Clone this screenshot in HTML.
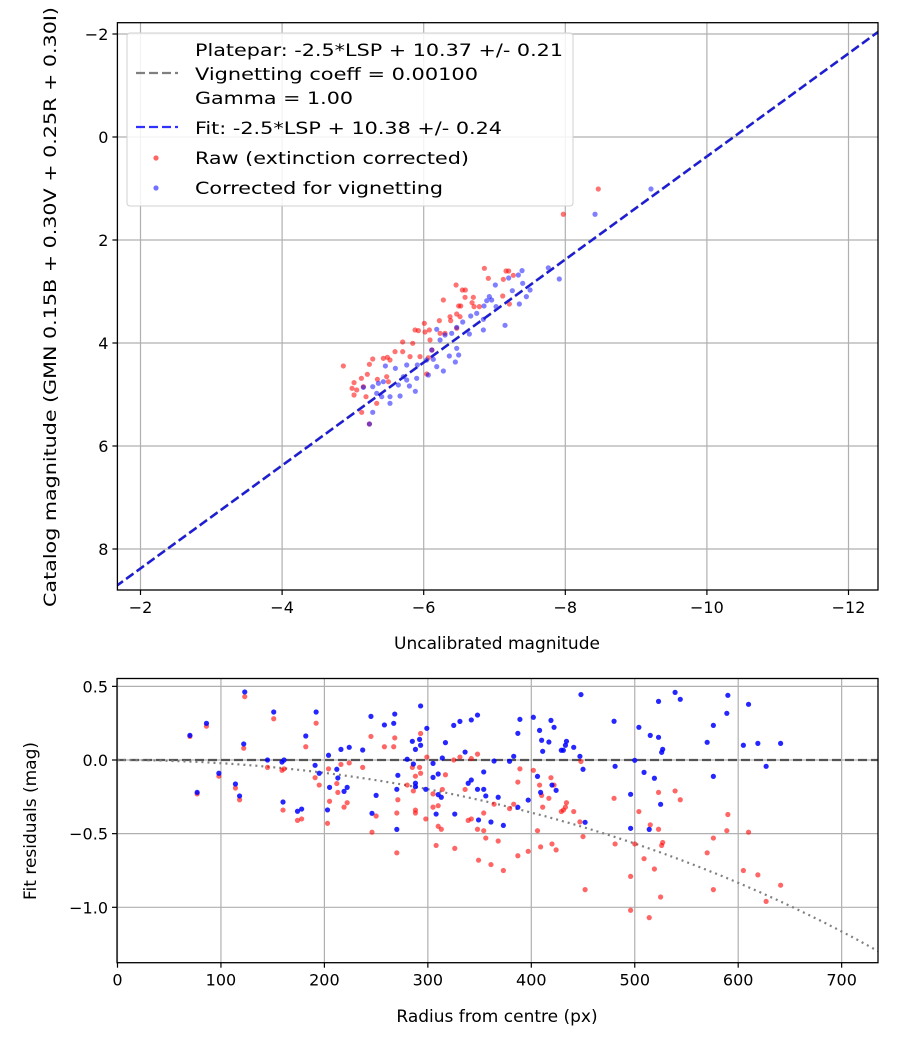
<!DOCTYPE html>
<html><head><meta charset="utf-8"><style>
html,body{margin:0;padding:0;background:#fff;}
svg text{font-family:"DejaVu Sans","Liberation Sans",sans-serif;fill:#000;}
</style></head><body>
<svg id="chart" xmlns="http://www.w3.org/2000/svg" width="900" height="1050" viewBox="0 0 900 1050">
<defs>
<clipPath id="ctop"><rect x="117.4" y="22.7" width="760.6" height="567.3"/></clipPath>
<clipPath id="cbot"><rect x="117" y="678.5" width="761" height="284.2"/></clipPath>
</defs>
<rect width="900" height="1050" fill="#fff"/>
<g id="topplot"></g>
<g id="botplot"></g>
</svg>
<script>
// ---------- Top plot data ----------
const rawX = [-6.857,-7.163,-7.200,-7.266,-6.913,-7.125,-6.457,-6.546,-6.588,-6.584,-6.701,-6.278,-6.683,-6.711,-6.494,-6.523,-6.786,-6.466,-6.513,-6.381,-6.221,-6.009,-6.080,-5.878,-5.925,-6.019,-6.231,-6.301,-5.703,-5.845,-5.703,-5.595,-5.807,-5.948,-6.066,-6.118,-5.430,-5.280,-5.487,-5.524,-4.865,-5.233,-5.204,-5.120,-5.016,-4.988,-5.054,-5.016,-5.148,-5.346,-5.477,-5.501,-5.185,-5.336,-5.124,-5.233,-6.042,-6.466,-7.116,-7.210,-6.089,-6.372,-8.466,-7.972];
const rawY = [2.55,2.602,2.602,2.686,2.744,2.764,2.874,2.971,2.971,3.113,3.113,3.165,3.217,3.294,3.281,3.281,3.294,3.437,3.489,3.566,3.566,3.618,3.747,3.747,3.76,3.786,3.812,3.812,3.98,4.006,4.168,4.168,4.265,4.265,4.285,4.136,4.298,4.311,4.278,4.33,4.446,4.414,4.608,4.686,4.77,4.88,4.912,5.01,4.848,4.705,4.654,4.751,5.042,5.171,5.346,5.573,4.602,3.715,3.087,3.243,3.942,3.489,1.01,1.50];
const corX = [-7.389,-7.337,-7.012,-7.200,-7.398,-7.502,-7.252,-7.450,-7.351,-6.927,-6.890,-6.960,-7.022,-6.852,-6.749,-6.664,-6.843,-6.551,-6.843,-7.149,-6.645,-6.466,-6.395,-6.301,-6.231,-6.184,-6.466,-6.494,-6.447,-6.362,-6.278,-6.184,-6.113,-6.066,-5.901,-5.910,-5.760,-5.713,-5.600,-5.459,-5.642,-5.798,-5.882,-5.666,-5.524,-5.430,-5.360,-5.280,-5.148,-5.336,-5.407,-5.280,-5.233,-5.524,-5.760,-6.042,-6.136,-9.21,-8.42,-7.76,-7.915];
const corY = [2.595,2.68,2.874,2.738,2.841,2.971,2.984,3.1,3.243,3.1,3.178,3.165,3.294,3.281,3.424,3.476,3.54,3.592,3.747,3.657,3.825,3.696,3.812,3.845,3.942,3.734,4.103,4.233,4.369,4.252,4.544,4.459,4.136,4.621,4.686,4.427,4.427,4.654,4.492,4.446,4.815,4.835,4.938,5.029,5.171,4.751,4.783,4.848,4.861,4.977,5.042,5.346,5.573,5.042,4.718,4.33,4.317,1.01,1.50,2.54,2.757];
const fitZero = 10.38;
const plateZero = 10.37;
const topXTicks = [-2,-4,-6,-8,-10,-12];
const topYTicks = [-2,0,2,4,6,8];

// ---------- Bottom plot data ----------
const radius = [70,77,86,98,114,118,122,123,145,151,160,159,161,174,178,182,191,192,195,203,204,205,212,213,216,219,222,224,237,245,246,250,258,267,268,270,270,271,280,285,286,288,288,288,292,293,293,298,299,305,305,308,310,310,313,314,317,325,326,331,336,339,342,342,348,348,349,354,354,356,361,364,368,373,379,383,387,387,389,397,402,406,408,409,410,411,417,419,420,422,424,429,431,433,434,441,447,448,450,452,480,481,496,496,500,504,509,514,515,519,523,523,525,526,527,539,544,570,576,576,589,590,605,610,619,627,641];
const resCorrected = [0.167,-0.22,0.249,-0.09,-0.163,-0.244,0.109,0.462,0,0.326,-0.285,-0.014,0,-0.348,-0.333,0.163,-0.036,0.326,-0.09,-0.339,0.032,-0.186,-0.063,-0.122,0.072,-0.213,-0.186,0.086,0.068,0.296,-0.362,-0.24,0.238,0.249,0.312,-0.471,-0.199,-0.104,0.005,0.127,-0.027,0.072,-0.158,-0.181,0.14,0.1,0.367,-0.199,0.215,-0.118,-0.023,-0.367,-0.235,-0.095,-0.253,0.014,0.118,0.235,-0.367,0.262,0.054,-0.158,-0.136,0.272,0.305,-0.199,-0.407,-0.081,-0.199,-0.244,-0.421,-0.007,-0.253,-0.444,-0.009,0.025,0.181,-0.321,0.276,-0.272,0.29,-0.111,0.201,-0.22,0.134,0.059,0.122,0.269,-0.17,0.222,-0.206,0.066,0.066,0.1,0.127,0.086,0.025,0.444,-0.063,-0.423,0.263,-0.043,-0.233,-0.464,-0.002,0.222,-0.084,-0.471,0.167,-0.124,0.154,0.398,-0.301,0.052,0.072,0.459,0.412,0.12,0.235,-0.111,0.317,0.439,0.1,0.378,0.113,-0.043,0.113];
const resRaw = [0.16,-0.23,0.23,-0.11,-0.19,-0.27,0.08,0.43,-0.05,0.28,-0.34,-0.07,-0.06,-0.41,-0.40,0.09,-0.12,0.25,-0.17,-0.43,-0.06,-0.28,-0.16,-0.22,-0.03,-0.32,-0.29,-0.02,-0.05,0.16,-0.49,-0.38,0.09,0.09,0.15,-0.63,-0.36,-0.27,-0.17,-0.05,-0.21,-0.11,-0.34,-0.36,-0.05,-0.09,0.18,-0.40,0.02,-0.32,-0.23,-0.58,-0.45,-0.31,-0.47,-0.20,-0.10,0.00,-0.60,0.02,-0.20,-0.41,-0.40,0.01,0.04,-0.47,-0.68,-0.36,-0.48,-0.53,-0.71,-0.30,-0.55,-0.75,-0.33,-0.30,-0.15,-0.65,-0.06,-0.62,-0.07,-0.48,-0.17,-0.59,-0.24,-0.32,-0.26,-0.12,-0.57,-0.17,-0.61,-0.35,-0.34,-0.32,-0.29,-0.35,-0.42,-0.01,-0.52,-0.88,-0.26,-0.57,-0.79,-1.02,-0.57,-0.35,-0.67,-1.07,-0.44,-0.74,-0.47,-0.22,-0.93,-0.58,-0.56,-0.21,-0.27,-0.63,-0.53,-0.88,-0.48,-0.37,-0.75,-0.49,-0.78,-0.96,-0.85];
const vignCoeff = 0.001;
const botXTicks = [0,100,200,300,400,500,600,700];
const botYTicks = [0.5,0.0,-0.5,-1.0];
const botYTickLabels = ["0.5","0.0","\u22120.5","\u22121.0"];

const NS = "http://www.w3.org/2000/svg";
function mk(parent, tag, attrs) {
  const e = document.createElementNS(NS, tag);
  for (const k in attrs) e.setAttribute(k, attrs[k]);
  parent.appendChild(e);
  return e;
}
const fmt = v => (v < 0 ? "\u2212" + Math.abs(v) : String(v));

// ---------- top axes ----------
const T = {l:117.4, r:878, t:22.7, b:590};
const tx = x => 140.5 + (-x - 2) * 70.8;
const ty = y => 137 + y * 51.5;
const topG = document.getElementById("topplot");
for (const v of topXTicks) {
  const g = mk(topG, "line", {x1:tx(v), x2:tx(v), y1:T.t, y2:T.b, stroke:"#b0b0b0", "stroke-width":1.2});
  
  
  const tk = mk(topG, "line", {x1:tx(v), x2:tx(v), y1:T.b, y2:T.b+5, stroke:"#000", "stroke-width":1.2});
  
  
  const t = mk(topG, "text", {x:tx(v), y:T.b+23, "text-anchor":"middle", "font-size":16});
  t.textContent = fmt(v);
  
  
}
for (const v of topYTicks) {
  const g = mk(topG, "line", {x1:T.l, x2:T.r, y1:ty(v), y2:ty(v), stroke:"#b0b0b0", "stroke-width":1.2});
  
  
  const tk = mk(topG, "line", {x1:T.l-5, x2:T.l, y1:ty(v), y2:ty(v), stroke:"#000", "stroke-width":1.2});
  
  
  const t = mk(topG, "text", {x:T.l-9, y:ty(v)+6, "text-anchor":"end", "font-size":16});
  t.textContent = fmt(v);
  
  
}
const ctop = mk(topG, "g", {"clip-path":"url(#ctop)"});


for (let i = 0; i < rawX.length; i++) {
  const c = mk(ctop, "circle", {cx:tx(rawX[i]), cy:ty(rawY[i]), r:2.6, fill:"#ff0000", "fill-opacity":0.55});
  
  
}
for (let i = 0; i < corX.length; i++) {
  const c = mk(ctop, "circle", {cx:tx(corX[i]), cy:ty(corY[i]), r:2.6, fill:"#0000ff", "fill-opacity":0.5});
  
  
}
const x0 = -1.5, x1 = -12.6;
const pl = mk(ctop, "line", {x1:tx(x0), y1:ty(x0+plateZero), x2:tx(x1), y2:ty(x1+plateZero), stroke:"#808080", "stroke-width":2.2, "stroke-dasharray":"9,4"});


const fl = mk(ctop, "line", {x1:tx(x0), y1:ty(x0+fitZero), x2:tx(x1), y2:ty(x1+fitZero), stroke:"#1c1cd8", "stroke-width":2.4, "stroke-dasharray":"9,4"});


const tframe = mk(topG, "rect", {x:T.l, y:T.t, width:T.r-T.l, height:T.b-T.t, fill:"none", stroke:"#000", "stroke-width":1.3});


const txl = mk(topG, "text", {x:497, y:649, "text-anchor":"middle", "font-size":17});
txl.textContent = "Uncalibrated magnitude";


const tyl = mk(topG, "text", {x:0, y:0, "text-anchor":"middle", "font-size":17, transform:"translate(56,307) rotate(-90)", textLength:600, lengthAdjust:"spacingAndGlyphs"});
tyl.textContent = "Catalog magnitude (GMN 0.15B + 0.30V + 0.25R + 0.30I)";



// legend
const lg = mk(topG, "g", {});


const lbox = mk(lg, "rect", {x:127, y:33, width:446, height:173, rx:3, fill:"#fff", "fill-opacity":0.85, stroke:"#d0d0d0", "stroke-width":1});


const lgl = mk(lg, "line", {x1:136, x2:178, y1:73, y2:73, stroke:"#808080", "stroke-width":2.2, "stroke-dasharray":"9,4"});


const lbl = mk(lg, "line", {x1:136, x2:178, y1:127, y2:127, stroke:"#3030ff", "stroke-width":2.2, "stroke-dasharray":"9,4"});


const lr = mk(lg, "circle", {cx:156, cy:158, r:2.6, fill:"#ff0000", "fill-opacity":0.6});


const lb = mk(lg, "circle", {cx:156, cy:188, r:2.6, fill:"#0000ff", "fill-opacity":0.55});


const legItems = [
  ["Platepar: -2.5*LSP + 10.37 +/- 0.21", 56, 368],
  ["Vignetting coeff = 0.00100", 80, 283],
  ["Gamma = 1.00", 104, 158],
  ["Fit: -2.5*LSP + 10.38 +/- 0.24", 134, 307],
  ["Raw (extinction corrected)", 164, 274],
  ["Corrected for vignetting", 194, 248]
];
for (const it of legItems) {
  const t = mk(lg, "text", {x:195, y:it[1], "font-size":17, textLength:it[2], lengthAdjust:"spacingAndGlyphs"});
  t.textContent = it[0];
  
  
}

// ---------- bottom axes ----------
const B = {l:117, r:878, t:678.5, b:962.7};
const bx = r => 117.5 + r * 1.0345;
const by = v => 760 - v * 147.3;
const botG = document.getElementById("botplot");
botXTicks.forEach(v => {
  const g = mk(botG, "line", {x1:bx(v), x2:bx(v), y1:B.t, y2:B.b, stroke:"#b0b0b0", "stroke-width":1.2});
  
  
  const tk = mk(botG, "line", {x1:bx(v), x2:bx(v), y1:B.b, y2:B.b+5, stroke:"#000", "stroke-width":1.2});
  
  
  const t = mk(botG, "text", {x:bx(v), y:B.b+23, "text-anchor":"middle", "font-size":16});
  t.textContent = String(v);
  
  
});
botYTicks.forEach((v, i) => {
  const g = mk(botG, "line", {x1:B.l, x2:B.r, y1:by(v), y2:by(v), stroke:"#b0b0b0", "stroke-width":1.2});
  
  
  const tk = mk(botG, "line", {x1:B.l-5, x2:B.l, y1:by(v), y2:by(v), stroke:"#000", "stroke-width":1.2});
  
  
  const t = mk(botG, "text", {x:B.l-9, y:by(v)+6, "text-anchor":"end", "font-size":16});
  t.textContent = botYTickLabels[i];
  
  
});
const cbot = mk(botG, "g", {"clip-path":"url(#cbot)"});


const zl = mk(cbot, "line", {x1:B.l, x2:B.r, y1:by(0), y2:by(0), stroke:"#555", "stroke-width":2.2, "stroke-dasharray":"9,4"});


let d = "";
for (let r = 0; r <= 740; r += 5) {
  const v = 10 * Math.log10(Math.cos(r * vignCoeff));
  d += (r === 0 ? "M" : "L") + bx(r).toFixed(1) + "," + by(v).toFixed(1);
}
const vc = mk(cbot, "path", {d:d, fill:"none", stroke:"#808080", "stroke-width":2.2, "stroke-dasharray":"2,4"});


for (let i = 0; i < radius.length; i++) {
  const c = mk(cbot, "circle", {cx:bx(radius[i]), cy:by(resRaw[i]), r:2.6, fill:"#ff0000", "fill-opacity":0.6});
  
  
}
for (let i = 0; i < radius.length; i++) {
  const c = mk(cbot, "circle", {cx:bx(radius[i]), cy:by(resCorrected[i]), r:2.6, fill:"#0000ff", "fill-opacity":0.85});
  
  
}
const bframe = mk(botG, "rect", {x:B.l, y:B.t, width:B.r-B.l, height:B.b-B.t, fill:"none", stroke:"#000", "stroke-width":1.3});


const bxl = mk(botG, "text", {x:497, y:1022, "text-anchor":"middle", "font-size":17});
bxl.textContent = "Radius from centre (px)";


const byl = mk(botG, "text", {x:0, y:0, "text-anchor":"middle", "font-size":17, transform:"translate(36,821) rotate(-90)"});
byl.textContent = "Fit residuals (mag)";


</script>
</body></html>
